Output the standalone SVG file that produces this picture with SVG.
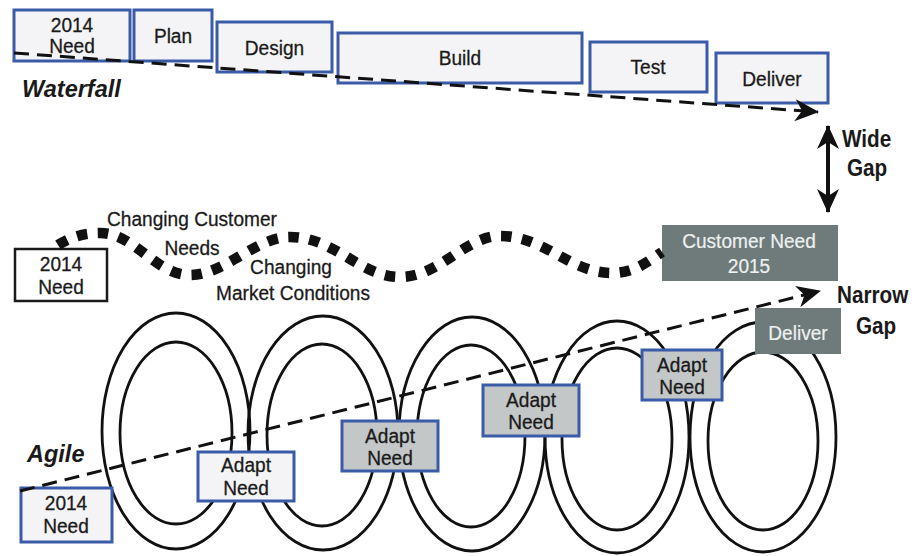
<svg xmlns="http://www.w3.org/2000/svg" width="918" height="556" viewBox="0 0 918 556">
  <style>
    text { font-family: "Liberation Sans", Arial, sans-serif; font-size: 21px; fill: #1a1a1a; stroke: #1a1a1a; stroke-width: 0.3; text-anchor: middle; }
    .box { fill: #f4f4f6; stroke: #3a5ba8; stroke-width: 3; }
    .box-plain { fill: #ffffff; stroke: #1a1a1a; stroke-width: 2.5; }
    .box-grey { fill: #c3c7c8; stroke: #3a5ba8; stroke-width: 3; }
    .box-dark { fill: #6e7b7a; }
    text.light { fill: #eef1f1; stroke: #eef1f1; stroke-width: 0.2; }
    .title { font-weight: bold; font-style: italic; font-size: 23.5px; text-anchor: start; stroke-width: 0; }
    .gap { font-weight: bold; font-size: 23px; text-anchor: start; stroke-width: 0; }
    .loop { fill: none; stroke: #111; stroke-width: 2.8; }
    .dash { fill: none; stroke: #111; stroke-width: 3; stroke-dasharray: 15 8; }
    .wave { fill: none; stroke: #111; stroke-width: 10.5; stroke-dasharray: 10.5 10.5; }
  </style>
  <defs>
    <marker id="barb" viewBox="0 0 24 22" refX="23" refY="11" markerWidth="24" markerHeight="22" markerUnits="userSpaceOnUse" orient="auto-start-reverse">
      <path d="M0,0 L24,11 L0,22 L7,11 Z" fill="#111"/>
    </marker>
  </defs>

  <rect width="918" height="556" fill="#ffffff"/>

  <!-- agile iteration loops -->
  <g id="loops" class="loop">
    <ellipse cx="176" cy="431" rx="74" ry="118"/>
    <ellipse cx="176" cy="433" rx="56" ry="91"/>
    <ellipse cx="323" cy="433" rx="75" ry="117"/>
    <ellipse cx="322" cy="435" rx="55" ry="91"/>
    <ellipse cx="472" cy="434" rx="73" ry="117"/>
    <ellipse cx="471" cy="436" rx="54" ry="91"/>
    <ellipse cx="617" cy="437" rx="72" ry="116"/>
    <ellipse cx="617" cy="439" rx="55" ry="91"/>
    <ellipse cx="763" cy="437" rx="73" ry="115"/>
    <ellipse cx="763" cy="441" rx="55" ry="89"/>
  </g>

  <!-- waterfall phases (labels use a narrowed face: translate to anchor, then squeeze horizontally) -->
  <g id="wf-need"><rect class="box" x="14" y="10" width="116" height="51"/><text transform="translate(72 32) scale(0.91 1)">2014</text><text transform="translate(72 53) scale(0.91 1)">Need</text></g>
  <g id="wf-plan"><rect class="box" x="134" y="10" width="78" height="51"/><text transform="translate(173 43) scale(0.91 1)">Plan</text></g>
  <g id="wf-design"><rect class="box" x="217" y="22" width="115" height="50"/><text transform="translate(274.5 55) scale(0.91 1)">Design</text></g>
  <g id="wf-build"><rect class="box" x="338" y="33" width="244" height="50"/><text transform="translate(460 65) scale(0.91 1)">Build</text></g>
  <g id="wf-test"><rect class="box" x="590" y="42" width="117" height="50"/><text transform="translate(648 74) scale(0.91 1)">Test</text></g>
  <g id="wf-deliver"><rect class="box" x="716" y="53" width="112" height="50"/><text transform="translate(772 86) scale(0.91 1)">Deliver</text></g>

  <!-- changing-needs row -->
  <g id="mid-need"><rect class="box-plain" x="15" y="249" width="92" height="52"/><text transform="translate(61 271) scale(0.91 1)">2014</text><text transform="translate(61 294) scale(0.91 1)">Need</text></g>
  <g id="customer-need-2015"><rect class="box-dark" x="662" y="225" width="176" height="56"/><text class="light" transform="translate(749 248) scale(0.91 1)">Customer Need</text><text class="light" transform="translate(749 273) scale(0.91 1)">2015</text></g>

  <!-- agile boxes -->
  <g id="agile-need"><rect class="box" x="21" y="488" width="91" height="54"/><text transform="translate(66 510) scale(0.91 1)">2014</text><text transform="translate(66 533) scale(0.91 1)">Need</text></g>
  <g id="adapt-1"><rect class="box" x="198" y="452" width="96" height="49"/><text transform="translate(246 472) scale(0.91 1)">Adapt</text><text transform="translate(246 495) scale(0.91 1)">Need</text></g>
  <g id="adapt-2"><rect class="box-grey" x="342" y="421" width="96" height="50"/><text transform="translate(390 443) scale(0.91 1)">Adapt</text><text transform="translate(390 465) scale(0.91 1)">Need</text></g>
  <g id="adapt-3"><rect class="box-grey" x="483" y="385" width="96" height="51"/><text transform="translate(531 407) scale(0.91 1)">Adapt</text><text transform="translate(531 429) scale(0.91 1)">Need</text></g>
  <g id="adapt-4"><rect class="box-grey" x="642" y="350" width="80" height="50"/><text transform="translate(682 372) scale(0.91 1)">Adapt</text><text transform="translate(682 394) scale(0.91 1)">Need</text></g>
  <g id="agile-deliver"><rect class="box-dark" x="755" y="308" width="86" height="46"/><text class="light" transform="translate(798 340) scale(0.91 1)">Deliver</text></g>

  <!-- connectors -->
  <g id="connectors">
    <path class="dash" d="M14,53 L818,112" marker-end="url(#barb)"/>
    <path d="M828,126 L828,212" stroke="#111" stroke-width="4" marker-start="url(#barb)" marker-end="url(#barb)"/>
    <path class="wave" d="M58,245 C72,236 86,233 100,233 C135,233 155,275 190,275 C225,275 255,237 290,237 C335,237 360,277 400,277 C440,277 465,236 500,236 C545,236 570,273 612,273 C635,273 650,260 662,252"/>
    <path class="dash" d="M20,491 L820,291" marker-end="url(#barb)"/>
  </g>

  <!-- labels -->
  <g id="labels">
    <text class="title" x="22" y="97">Waterfall</text>
    <text class="title" x="27" y="462">Agile</text>
    <text class="gap" transform="translate(842 147) scale(0.9 1)">Wide</text>
    <text class="gap" transform="translate(847 176) scale(0.9 1)">Gap</text>
    <text class="gap" transform="translate(837 303) scale(0.9 1)">Narrow</text>
    <text class="gap" transform="translate(856 334) scale(0.9 1)">Gap</text>
    <text transform="translate(192 226) scale(0.91 1)">Changing Customer</text>
    <text transform="translate(192 255) scale(0.91 1)">Needs</text>
    <text transform="translate(291 274) scale(0.91 1)">Changing</text>
    <text transform="translate(293 300) scale(0.91 1)">Market Conditions</text>
  </g>
</svg>
